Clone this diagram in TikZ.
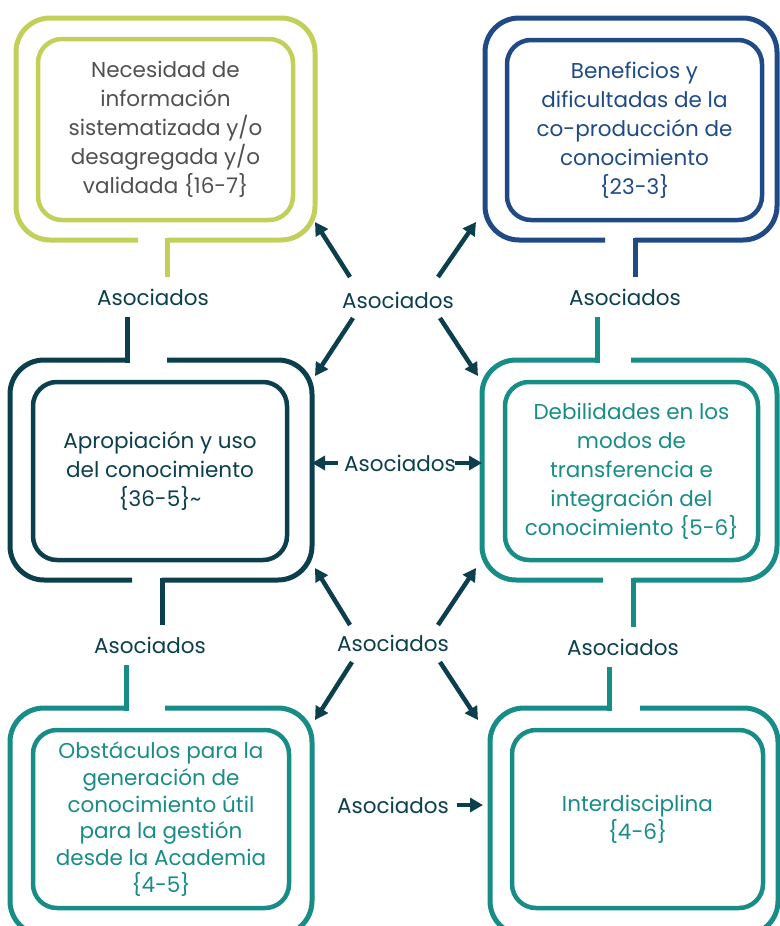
\documentclass[tikz,border=0pt]{standalone}
\usepackage{fontspec}
\setmainfont{Poppins}
\usetikzlibrary{arrows.meta,calc}

\definecolor{lima}{HTML}{C2D05A}
\definecolor{azul}{HTML}{1F4A86}
\definecolor{petroleo}{HTML}{0B3F4D}
\definecolor{turquesa}{HTML}{188C87}
\definecolor{gris}{HTML}{505050}

\tikzset{
  caja/.style={draw, line width=4.5pt, rounded corners=24pt, align=center, inner sep=0pt, font=\fontsize{21.5}{29}\selectfont},
  marco/.style={line width=5pt, rounded corners=34pt},
  tallo/.style={line width=5pt, line cap=rect},
  asoc/.style={text=petroleo, inner xsep=3pt, inner ysep=14pt, font=\fontsize{21.5}{24}\selectfont},
  flecha/.style={petroleo, line width=4.5pt, -{Triangle[length=13pt,width=14pt]}},
}

\begin{document}
\begin{tikzpicture}[x=1pt, y=-1pt]
\useasboundingbox (0,0) rectangle (779,926);

\node[caja, lima, text=gris, minimum width=255pt, minimum height=181pt] (necesidad) at (165.5,129.5) {Necesidad de\\información\\sistematizada y/o\\desagregada y/o\\validada \{16-7\}};
\node[caja, azul, minimum width=255pt, minimum height=180pt] (beneficios) at (634.5,130) {Beneficios y\\dificultadas de la\\co-producción de\\conocimiento\\\{23-3\}};
\node[caja, petroleo, minimum width=254pt, minimum height=178pt] (apropiacion) at (160,471) {Apropiación y uso\\del conocimiento\\\{36-5\}\textasciitilde};
\node[caja, turquesa, minimum width=253pt, minimum height=178pt] (debilidades) at (631.5,471) {Debilidades en los\\modos de\\transferencia e\\integración del\\conocimiento \{5-6\}};
\node[caja, turquesa, minimum width=256pt, minimum height=178pt, font=\fontsize{21.5}{26.8}\selectfont] (obstaculos) at (161,819) {Obstáculos para la\\generación de\\conocimiento útil\\para la gestión\\desde la Academia\\\{4-5\}};
\node[caja, turquesa, minimum width=251pt, minimum height=178pt, font=\fontsize{21.5}{28}\selectfont] (interdisciplina) at (637.5,819) {Interdisciplina\\\{4-6\}};

\draw[marco, lima] (167,240) -- (315,240) -- (315,18) -- (16,18) -- (16,240) -- (138,240);
\draw[marco, azul] (635,240) -- (777,240) -- (777,18) -- (485,18) -- (485,240) -- (605,240);
\draw[marco, petroleo] (127,360) -- (10,360) -- (10,580) -- (132,580);
\draw[marco, petroleo] (162,580) -- (312,580) -- (312,360) -- (167,360);
\draw[marco, turquesa] (597,360) -- (482,360) -- (482,580) -- (603,580);
\draw[marco, turquesa] (633,580) -- (777,580) -- (777,360) -- (631,360);
\draw[marco, turquesa] (126,708) -- (10,708) -- (10,935) -- (312,935) -- (312,708) -- (165,708);
\draw[marco, turquesa] (609,708) -- (490,708) -- (490,935) -- (778,935) -- (778,708) -- (640,708);

\coordinate (f1) at (167,240);
\coordinate (f2) at (635,240);
\coordinate (f3a) at (127,360);
\coordinate (f3b) at (162,580);
\coordinate (f4a) at (597,360);
\coordinate (f4b) at (633,580);
\coordinate (f5) at (126,708);
\coordinate (f6) at (609,708);

\node[asoc] (a1) at (153,297) {Asociados};
\node[asoc] (a2) at (625,297) {Asociados};
\node[asoc] (a3) at (150,645) {Asociados};
\node[asoc] (a4) at (623,647) {Asociados};

\draw[tallo, lima] (f1) -- (f1 |- a1.north);
\draw[tallo, petroleo] (f3a) -- (f3a |- a1.south);
\draw[tallo, azul] (f2) -- (f2 |- a2.north);
\draw[tallo, turquesa] (f4a) -- (f4a |- a2.south);
\draw[tallo, petroleo] (f3b) -- (f3b |- a3.north);
\draw[tallo, turquesa] (f5) -- (f5 |- a3.south);
\draw[tallo, turquesa] (f4b) -- (f4b |- a4.north);
\draw[tallo, turquesa] (f6) -- (f6 |- a4.south);

\node[asoc] (c1) at (398,300) {Asociados};
\node[asoc] (c2) at (400,463) {Asociados};
\node[asoc] (c3) at (393,643) {Asociados};
\node[asoc] (c4) at (393,805) {Asociados};

\coordinate (p1) at (315,222);
\coordinate (p2) at (476,222);
\coordinate (p3) at (315,376);
\coordinate (p4) at (478,376);
\coordinate (p5) at (312,463);
\coordinate (p6) at (482,463);
\coordinate (p7) at (315,568);
\coordinate (p8) at (476,568);
\coordinate (p9) at (315,720);
\coordinate (p10) at (478,720);
\coordinate (p11) at (483,805);

\draw[flecha] ($(c1)+(-48,-23)$) -- (p1);
\draw[flecha] ($(c1)+(40,-23)$) -- (p2);
\draw[flecha] ($(c1)+(-45,18)$) -- (p3);
\draw[flecha] ($(c1)+(42,18)$) -- (p4);
\draw[flecha] ($(c2)+(-62,0)$) -- (p5);
\draw[flecha] ($(c2)+(55,0)$) -- (p6);
\draw[flecha] ($(c3)+(-43,-18)$) -- (p7);
\draw[flecha] ($(c3)+(45,-18)$) -- (p8);
\draw[flecha] ($(c3)+(-41,19)$) -- (p9);
\draw[flecha] ($(c3)+(47,19)$) -- (p10);
\draw[flecha] ($(c4)+(64,0)$) -- (p11);
\end{tikzpicture}
\end{document}
